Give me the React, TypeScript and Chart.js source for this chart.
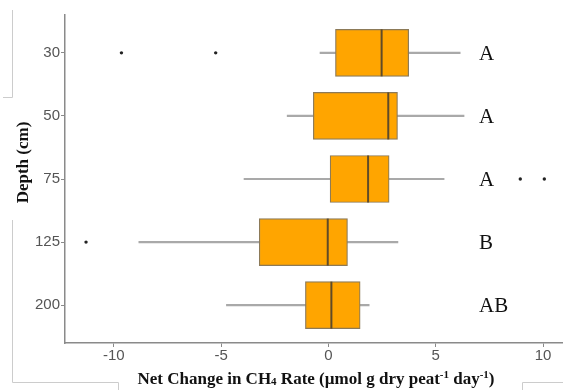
import { useEffect, useRef } from 'react';
import { Chart, registerables } from 'chart.js';

Chart.register(...registerables);

// Net CH4 change by depth, five-number summaries plus outliers
const depths = ['30', '50', '75', '125', '200'];
const whiskerLow = [-0.39, -1.92, -3.93, -8.83, -4.75];
const q1 = [0.33, -0.7, 0.08, -3.22, -1.07];
const medians = [2.48, 2.79, 1.85, -0.03, 0.14];
const q3 = [3.74, 3.22, 2.83, 0.89, 1.48];
const whiskerHigh = [6.14, 6.32, 5.39, 3.24, 1.9];
const outliers: number[][] = [[-9.64, -5.25], [], [8.94, 10.06], [-11.29], []];
const groupLetters = ['A', 'A', 'A', 'B', 'AB'];
const xTicks = [-10, -5, 0, 5, 10];

const BOX_PX = 47;
const LETTER_X = 7.02;
const AXIS_GREY = '#8a8a8a';
const TICK_TEXT = '#555555';
const SERIF = '"Liberation Serif", "DejaVu Serif", serif';
const SANS = '"Liberation Sans", Arial, sans-serif';

type Seg = { t: string; k: 'n' | 'sub' | 'sup' };
const xTitle: Seg[] = [
  { t: 'Net Change in CH', k: 'n' },
  { t: '4', k: 'sub' },
  { t: ' Rate (\u00b5mol g dry peat', k: 'n' },
  { t: '-1', k: 'sup' },
  { t: ' day', k: 'n' },
  { t: '-1', k: 'sup' },
  { t: ')', k: 'n' },
];

const labelsPlugin = {
  id: 'labelsPlugin',
  afterDraw(chart: any) {
    const { ctx } = chart;
    const xs = chart.scales.x;
    const ys = chart.scales.y;
    ctx.save();

    // significance letters beside each box
    ctx.fillStyle = '#111';
    ctx.font = `21px ${SERIF}`;
    ctx.textAlign = 'left';
    ctx.textBaseline = 'alphabetic';
    groupLetters.forEach((l, i) => {
      ctx.fillText(l, xs.getPixelForValue(LETTER_X), ys.getPixelForValue(i + 1) + 7);
    });

    // x-axis title with sub/superscripts
    const big = `bold 17px ${SERIF}`;
    const small = `bold 11px ${SERIF}`;
    let total = 0;
    xTitle.forEach((s) => {
      ctx.font = s.k === 'n' ? big : small;
      total += ctx.measureText(s.t).width;
    });
    let cx = 316 - total / 2;
    const base = 384;
    xTitle.forEach((s) => {
      ctx.font = s.k === 'n' ? big : small;
      const dy = s.k === 'sup' ? -6.5 : s.k === 'sub' ? 1 : 0;
      ctx.fillText(s.t, cx, base + dy);
      cx += ctx.measureText(s.t).width;
    });

    // y-axis title
    ctx.save();
    ctx.translate(24, 162.5);
    ctx.rotate(-Math.PI / 2);
    ctx.font = big;
    ctx.textAlign = 'center';
    ctx.textBaseline = 'middle';
    ctx.fillText('Depth (cm)', 0, 0);
    ctx.restore();

    // thin frame lines around the figure panel
    ctx.strokeStyle = '#cccccc';
    ctx.lineWidth = 1;
    ctx.beginPath();
    ctx.moveTo(12.5, 10); ctx.lineTo(12.5, 97.5); ctx.lineTo(3, 97.5);
    ctx.moveTo(12.5, 220); ctx.lineTo(12.5, 382.5); ctx.lineTo(118.5, 382.5); ctx.lineTo(118.5, 390);
    ctx.moveTo(563, 382.5); ctx.lineTo(522.5, 382.5); ctx.lineTo(522.5, 390);
    ctx.stroke();

    ctx.restore();
  },
};

export default function App() {
  const ref = useRef<HTMLCanvasElement | null>(null);

  useEffect(() => {
    if (!ref.current) return;
    const pos = depths.map((_, i) => i + 1);

    const chart = new Chart(ref.current, {
      type: 'bar',
      data: {
        datasets: [
          {
            type: 'bar',
            label: 'whiskers',
            indexAxis: 'y',
            grouped: false,
            barThickness: 1.5,
            data: pos.map((p, i) => ({ x: [whiskerLow[i], whiskerHigh[i]], y: p })),
            backgroundColor: '#a9a9a9',
            borderWidth: 0,
            order: 3,
          } as any,
          {
            type: 'bar',
            label: 'IQR',
            indexAxis: 'y',
            grouped: false,
            barThickness: BOX_PX,
            data: pos.map((p, i) => ({ x: [q1[i], q3[i]], y: p })),
            backgroundColor: '#FFA500',
            borderColor: '#8c7a58',
            borderWidth: 1.2,
            borderSkipped: false,
            order: 2,
          } as any,
          {
            type: 'scatter',
            label: 'median',
            data: pos.map((p, i) => ({ x: medians[i], y: p })),
            pointStyle: 'line',
            pointRotation: 90,
            pointRadius: BOX_PX / 2,
            borderColor: '#5f4b28',
            borderWidth: 2,
            order: 1,
          } as any,
          {
            type: 'scatter',
            label: 'outliers',
            data: outliers.flatMap((vals, i) => vals.map((v) => ({ x: v, y: pos[i] }))),
            pointRadius: 1.7,
            backgroundColor: '#222',
            borderWidth: 0,
            order: 0,
          } as any,
        ],
      },
      options: {
        responsive: false,
        animation: false,
        events: [],
        layout: { autoPadding: false, padding: { top: 15, right: 0, bottom: 0, left: 0 } },
        plugins: { legend: { display: false }, tooltip: { enabled: false } },
        scales: {
          x: {
            type: 'linear',
            offset: false,
            min: -12.27,
            max: 10.93,
            afterFit: (s: any) => {
              s.height = 47;
              s.paddingLeft = 0;
              s.paddingRight = 0;
            },
            afterBuildTicks: (s: any) => { s.ticks = xTicks.map((v) => ({ value: v })); },
            ticks: {
              color: TICK_TEXT,
              font: { family: SANS, size: 15 },
              padding: 0,
              maxRotation: 0,
              callback: (v: any) => String(v),
            },
            grid: { offset: false, drawOnChartArea: false, drawTicks: true, tickLength: 4, color: AXIS_GREY },
            border: { display: true, color: AXIS_GREY, width: 1.5 },
          },
          y: {
            type: 'linear',
            offset: false,
            min: 0.4,
            max: 5.6,
            reverse: true,
            afterFit: (s: any) => {
              s.width = 65;
              s.paddingTop = 0;
              s.paddingBottom = 0;
            },
            afterBuildTicks: (s: any) => { s.ticks = pos.map((v) => ({ value: v })); },
            ticks: {
              color: TICK_TEXT,
              font: { family: SANS, size: 15 },
              padding: 1,
              callback: (v: any) => depths[Math.round(v) - 1] ?? '',
            },
            grid: { offset: false, drawOnChartArea: false, drawTicks: true, tickLength: 4, color: AXIS_GREY },
            border: { display: true, color: AXIS_GREY, width: 1.5 },
          },
        },
      },
      plugins: [labelsPlugin],
    });

    return () => chart.destroy();
  }, []);

  return (
    <div style={{ position: 'fixed', left: 0, top: 0, width: 563, height: 390, background: '#fff' }}>
      <canvas ref={ref} width={563} height={390} />
    </div>
  );
}
